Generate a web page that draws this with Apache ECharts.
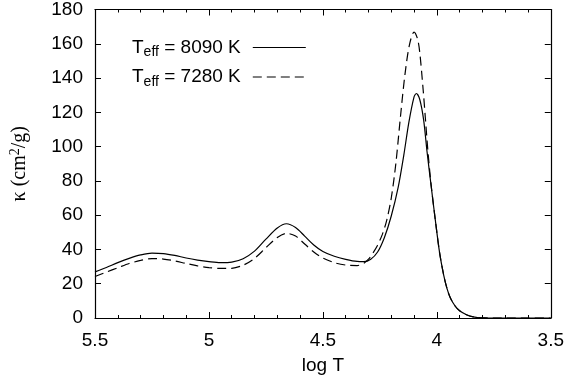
<!DOCTYPE html>
<html>
<head>
<meta charset="utf-8">
<script src="https://cdn.jsdelivr.net/npm/echarts@6/dist/echarts.min.js"></script>
<style>
html,body{margin:0;padding:0;background:#fff;}
#c{width:567px;height:380px;}
</style>
</head>
<body>
<div id="c"></div>
<script>
// ---- data ----
const xTicks = [5.5, 5, 4.5, 4, 3.5];
const yTicks = [0, 20, 40, 60, 80, 100, 120, 140, 160, 180];

const logT_8090 = [5.50, 5.45, 5.40, 5.35, 5.30, 5.25, 5.20, 5.15, 5.10, 5.05, 5.00, 4.95, 4.90, 4.85, 4.80, 4.75, 4.70, 4.66, 4.62, 4.58, 4.54, 4.50, 4.45, 4.40, 4.35, 4.32, 4.29, 4.26, 4.23, 4.20, 4.17, 4.145, 4.123, 4.10, 4.09, 4.075, 4.058, 4.043, 4.025, 4.007, 3.988, 3.97, 3.955, 3.94, 3.92, 3.90, 3.87, 3.84, 3.80, 3.75, 3.60, 3.50];
const kappa_8090 = [26.9, 29.5, 32.3, 34.8, 36.8, 37.9, 37.6, 36.5, 35.0, 33.8, 32.9, 32.3, 32.6, 34.6, 39.0, 46.0, 52.5, 55.0, 52.8, 47.8, 42.6, 38.8, 36.0, 34.2, 33.0, 32.9, 34.3, 38.5, 47.0, 59.5, 76.0, 95.0, 114.0, 129.0, 131.0, 127.5, 115.6, 97.0, 77.0, 57.5, 38.1, 25.0, 17.0, 11.5, 7.0, 4.2, 1.9, 0.7, 0.1, 0, 0, 0];

const logT_7280 = [5.50, 5.45, 5.40, 5.35, 5.30, 5.25, 5.20, 5.15, 5.10, 5.05, 5.00, 4.95, 4.90, 4.85, 4.80, 4.75, 4.70, 4.66, 4.62, 4.58, 4.54, 4.50, 4.45, 4.40, 4.35, 4.32, 4.30, 4.28, 4.26, 4.24, 4.22, 4.20, 4.18, 4.16, 4.14, 4.12, 4.10, 4.085, 4.075, 4.06, 4.05, 4.039, 4.025, 4.007, 3.988, 3.97, 3.955, 3.94, 3.92, 3.90, 3.87, 3.84, 3.80, 3.75, 3.60, 3.50];
const kappa_7280 = [24.2, 26.8, 29.3, 31.8, 33.6, 34.7, 34.4, 33.3, 31.8, 30.4, 29.4, 28.9, 29.0, 30.8, 34.8, 41.0, 47.0, 49.4, 47.8, 43.2, 38.5, 35.0, 32.3, 30.9, 30.6, 32.0, 34.3, 38.0, 42.5, 48.5, 57.0, 70.0, 90.0, 117.0, 142.0, 159.5, 166.8, 163.0, 155.0, 133.0, 116.0, 97.0, 77.5, 57.5, 38.1, 25.0, 17.0, 11.5, 7.0, 4.2, 1.9, 0.7, 0.1, 0, 0, 0];

const seriesNames = ['8090', '7280'];

function pairs(xs, ys) { return xs.map((x, i) => [x, ys[i]]); }

const FONT = 'Liberation Sans';
const SERIF = 'Liberation Serif';
const chart = echarts.init(document.getElementById('c'), null, {renderer: 'canvas'});

const xCommon = {
  type: 'value', min: xTicks[xTicks.length - 1], max: xTicks[0], interval: 0.5, inverse: true,
  splitLine: {show: false},
  axisLine: {show: true, onZero: false, lineStyle: {color: '#000', width: 1.2}},
  axisTick: {show: true, inside: true, length: 6, lineStyle: {color: '#000'}},
  minorTick: {show: true, splitNumber: 5, length: 3, lineStyle: {color: '#000'}},
};
const yCommon = {
  type: 'value', min: yTicks[0], max: yTicks[yTicks.length - 1], interval: 20,
  splitLine: {show: false},
  axisLine: {show: true, onZero: false, lineStyle: {color: '#000', width: 1.2}},
  axisTick: {show: true, inside: true, length: 6, lineStyle: {color: '#000'}},
};

chart.setOption({
  animation: false,
  backgroundColor: '#fff',
  grid: {left: 93, right: 16, top: 9, bottom: 61, containLabel: false},
  legend: {
    orient: 'vertical', left: 127, top: 33, align: 'right',
    itemWidth: 53, itemHeight: 10, itemGap: 8,
    data: seriesNames,
    itemStyle: {opacity: 0},
    lineStyle: {width: 1.2},
    formatter: function (n) { return '{t|T}{s|eff}{e| = ' + n + ' K}'; },
    textStyle: {
      color: '#000', fontFamily: FONT, fontSize: 19,
      rich: {
        t: {fontFamily: FONT, fontSize: 19, color: '#000', lineHeight: 18},
        e: {fontFamily: FONT, fontSize: 19, color: '#000', lineHeight: 18, padding: [0, 7, 0, 0]},
        s: {fontFamily: FONT, fontSize: 14, color: '#000', verticalAlign: 'bottom', padding: [10, 0, 0, 0]}
      }
    }
  },
  xAxis: [
    Object.assign({}, xCommon, {
      position: 'bottom', name: 'log T', nameLocation: 'middle', nameGap: 38,
      nameTextStyle: {fontFamily: FONT, fontSize: 19, color: '#000'},
      axisLabel: {show: true, margin: 13, fontFamily: FONT, fontSize: 19, color: '#000',
        formatter: v => String(v)}
    }),
    Object.assign({}, xCommon, {position: 'top', axisLabel: {show: false}})
  ],
  yAxis: [
    Object.assign({}, yCommon, {
      position: 'left', name: '{a|κ (cm}{b|2}{a|/g)}', nameLocation: 'middle', nameGap: 64, nameRotate: 90,
      nameTextStyle: {
        fontFamily: SERIF, fontSize: 20, color: '#000',
        rich: {
          a: {fontFamily: SERIF, fontSize: 20, color: '#000'},
          b: {fontFamily: SERIF, fontSize: 14, color: '#000', verticalAlign: 'top', padding: [0, 0, 9, 0]}
        }
      },
      axisLabel: {show: true, margin: 12, fontFamily: FONT, fontSize: 19, color: '#000'}
    }),
    Object.assign({}, yCommon, {position: 'right', axisLabel: {show: false}})
  ],
  series: [
    {
      name: seriesNames[0], type: 'line', xAxisIndex: 0, yAxisIndex: 0,
      data: pairs(logT_8090, kappa_8090),
      smooth: 0.3, symbol: 'none', showSymbol: false,
      lineStyle: {color: '#000', width: 1.2, type: 'solid'},
      itemStyle: {color: '#000'}
    },
    {
      name: seriesNames[1], type: 'line', xAxisIndex: 0, yAxisIndex: 0,
      data: pairs(logT_7280, kappa_7280),
      smooth: 0.3, symbol: 'none', showSymbol: false,
      lineStyle: {color: '#000', width: 1.2, type: [9, 5]},
      itemStyle: {color: '#000'}
    }
  ]
});
</script>
</body>
</html>
